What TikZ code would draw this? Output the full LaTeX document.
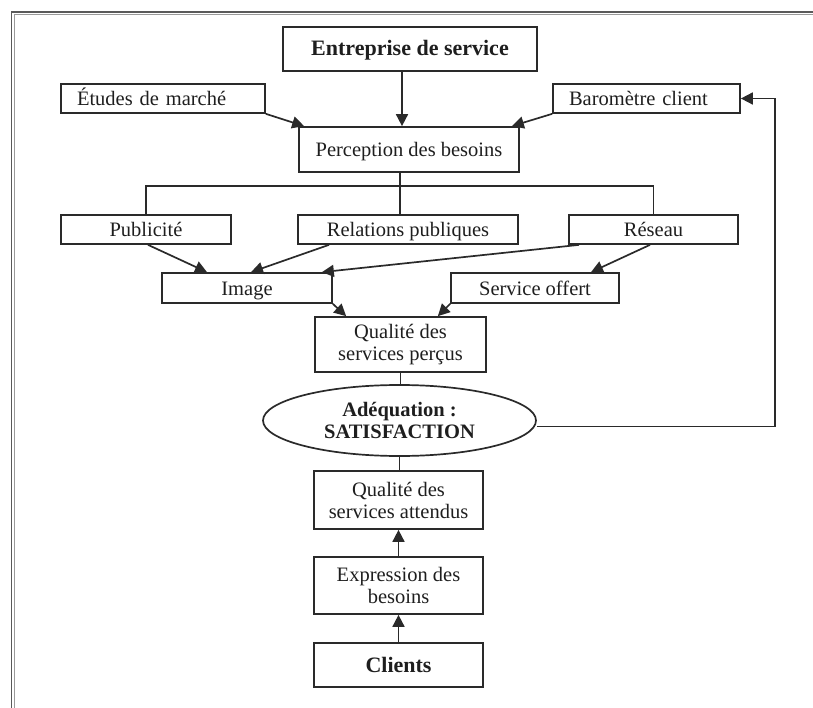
\documentclass[tikz,border=0pt]{standalone}
\usepackage{fontspec}
\setmainfont{Liberation Serif}
\usetikzlibrary{arrows.meta,shapes.geometric}

\definecolor{ink}{HTML}{2A2A2A}
\definecolor{txt}{HTML}{1E1E1E}
\definecolor{framedark}{HTML}{5A5A5A}
\definecolor{framelight}{HTML}{9A9A9A}

\tikzset{
  box/.style={draw=ink, line width=1.7pt, rectangle, inner sep=0pt, text=txt,
              font=\fontsize{20.5}{22}\selectfont, align=center},
  oneline/.style={text height=16pt, text depth=2pt},
  leftbox/.style={box, oneline, align=left, inner xsep=16pt},
  title/.style={font=\fontsize{22}{24}\selectfont\bfseries},
  oval/.style={draw=ink, line width=1.7pt, ellipse, inner sep=0pt, text=txt,
               font=\fontsize{20.5}{22}\selectfont\bfseries, align=center},
  link/.style={draw=ink, line width=1.7pt},
  arr/.style={link, -{Triangle[length=12pt,width=12pt]}},
}

\begin{document}
\begin{tikzpicture}[x=1pt, y=-1pt]
\useasboundingbox (0,0) rectangle (813,708);

% page frame (top and left edges)
\draw[framedark, line width=1.4pt] (11.5,708) -- (11.5,12) -- (813,12);
\draw[framelight, line width=1pt] (14.5,708) -- (14.5,14.5) -- (813,14.5);

% boxes
\node[box, oneline, title, minimum width=254pt, minimum height=44pt] (ent) at (410,49) {Entreprise de service};
\node[leftbox, text width=172pt, minimum height=29pt] (etu) at (163,98.5) {Études de marché};
\node[leftbox, text width=155pt, minimum height=29pt] (baro) at (646.5,98.5) {Baromètre client};
\node[box, oneline, minimum width=220pt, minimum height=45pt] (perc) at (409,149.5) {Perception des besoins};

\node[box, oneline, minimum width=170pt, minimum height=29pt] (pub) at (146,229.5) {Publicité};
\node[box, oneline, minimum width=220pt, minimum height=29pt] (rel) at (408,229.5) {Relations publiques};
\node[box, oneline, minimum width=169pt, minimum height=29pt] (res) at (653.5,229.5) {Réseau};

\node[box, oneline, minimum width=170pt, minimum height=30pt] (img) at (247,288) {Image};
\node[box, oneline, minimum width=168pt, minimum height=30pt] (off) at (535,288) {Service offert};

\node[box, minimum width=171pt, minimum height=55pt] (qp) at (400.5,344.5) {Qualité des\\services perçus};
\node[oval, minimum width=273pt, minimum height=71pt] (sat) at (399.5,420.5) {Adéquation :\\SATISFACTION};
\node[box, minimum width=169pt, minimum height=58pt] (qa) at (398.5,500) {Qualité des\\services attendus};
\node[box, minimum width=169pt, minimum height=57pt] (exp) at (398.5,585.5) {Expression des\\besoins};
\node[box, oneline, title, minimum width=169pt, minimum height=44pt] (cli) at (398.5,665) {Clients};

% inputs to the perception of needs
\draw[arr] ([xshift=-8pt]ent.south) -- ([xshift=-7pt]perc.north);
\draw[arr] (etu.south east) -- ([xshift=6pt]perc.north west);
\draw[arr] (baro.south west) -- ([xshift=-8pt]perc.north east);

% distribution tree
\coordinate (tj) at (400,186);
\draw[link] ([xshift=-9pt]perc.south) -- ([xshift=-8pt]rel.north);
\draw[link] (pub.north) |- (tj) -| (res.north);

% communication channels
\draw[arr] ([xshift=2pt]pub.south) -- ([xshift=-40pt]img.north);
\draw[arr] ([xshift=-79pt]rel.south) -- ([xshift=4pt]img.north);
\draw[arr] ([xshift=11pt]res.south west) -- ([xshift=-11pt]img.north east);
\draw[arr] ([xshift=-3.5pt]res.south) -- ([xshift=56pt]off.north);

% perceived quality
\draw[arr] (img.south east) -- ([xshift=32pt]qp.north west);
\draw[arr] (off.south west) -- ([xshift=-49pt]qp.north east);
\draw[link] (qp.south) -- (qp.south |- sat.north);

% expected quality
\draw[link] (sat.south) -- (sat.south |- qa.north);
\draw[arr] (exp.north) -- (qa.south);
\draw[arr] (cli.north) -- (exp.south);

% feedback loop
\draw[arr] ([yshift=-6pt]sat.east) -| ([xshift=34pt]baro.east) -- (baro.east);

\end{tikzpicture}
\end{document}
